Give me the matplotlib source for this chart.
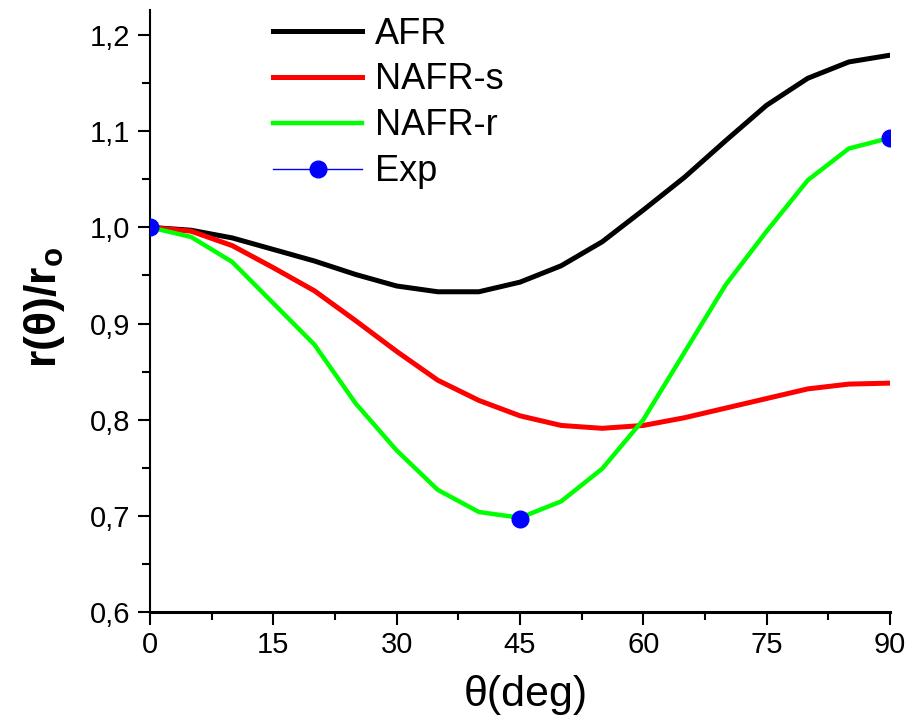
import matplotlib
matplotlib.use("Agg")
import matplotlib.pyplot as plt

# values
theta = [0, 5, 10, 15, 20, 25, 30, 35, 40, 45, 50, 55, 60, 65, 70, 75, 80, 85, 90]
afr = [1.000, 0.997, 0.989, 0.977, 0.965, 0.951, 0.939, 0.933, 0.933, 0.943,
       0.960, 0.985, 1.018, 1.052, 1.090, 1.127, 1.155, 1.172, 1.179]
nafr_s = [1.000, 0.996, 0.981, 0.958, 0.934, 0.903, 0.871, 0.841, 0.820, 0.804,
          0.794, 0.791, 0.794, 0.802, 0.812, 0.822, 0.832, 0.837, 0.838]
nafr_r = [1.000, 0.990, 0.964, 0.921, 0.878, 0.817, 0.768, 0.727, 0.704, 0.698,
          0.715, 0.749, 0.800, 0.870, 0.940, 0.996, 1.049, 1.082, 1.093]
exp_theta = [0, 45, 90]
exp_val = [1.000, 0.697, 1.093]

xticks = [0, 15, 30, 45, 60, 75, 90]
yticks = [0.6, 0.7, 0.8, 0.9, 1.0, 1.1, 1.2]
ytick_labels = ['0,6', '0,7', '0,8', '0,9', '1,0', '1,1', '1,2']

plt.rcParams['font.family'] = ['Liberation Sans', 'DejaVu Sans']
plt.rcParams['mathtext.fontset'] = 'custom'
plt.rcParams['mathtext.bf'] = 'Liberation Sans:bold'
plt.rcParams['mathtext.rm'] = 'Liberation Sans'

fig = plt.figure(figsize=(9.1, 7.24), dpi=100)
ax = fig.add_axes([150 / 910, 112 / 724, 740 / 910, 602 / 724])

ax.plot(theta, afr, color='black', lw=3.6, label='AFR')
ax.plot(theta, nafr_s, color='#ff0000', lw=3.6, label='NAFR-s')
ax.plot(theta, nafr_r, color='#00ff00', lw=3.2, label='NAFR-r')
ax.plot(exp_theta, exp_val, color='#0000ff', lw=1, ls='none', marker='o',
        markersize=12, label='Exp', zorder=5)

ax.set_xlim(0, 90)
ax.set_ylim(0.6, 1.226)
ax.set_xticks(xticks)
ax.set_xticks([7.5 + 15 * i for i in range(6)], minor=True)
ax.set_yticks(yticks)
ax.set_yticklabels(ytick_labels)
ax.set_yticks([0.65 + 0.1 * i for i in range(6)], minor=True)

for lab in ax.get_xticklabels() + ax.get_yticklabels():
    lab.set_fontsize(21)

ax.tick_params(which='major', length=9, width=1.5, direction='out', pad=5)
ax.tick_params(which='minor', length=6, width=1.5, direction='out')
ax.spines['top'].set_visible(False)
ax.spines['right'].set_visible(False)
ax.spines['left'].set_linewidth(1.5)
ax.spines['bottom'].set_linewidth(2.2)

ax.set_xlabel('θ(deg)', fontsize=31)
ax.xaxis.set_label_coords(0.508, -0.105)
ax.set_ylabel('r(θ)/r$_{\\mathbf{o}}$', fontsize=32, fontweight='bold')
ax.yaxis.set_label_coords(-0.112, 0.505)

# legend: Exp entry shows a thin line through the marker
handles, labels = ax.get_legend_handles_labels()
handles[3] = plt.Line2D([], [], color='#0000ff', lw=1, marker='o', markersize=12)
ax.legend(handles, labels, loc='upper left', bbox_to_anchor=(273 / 910, 0.977),
          bbox_transform=fig.transFigure, frameon=False, fontsize=26,
          handlelength=2.47, handletextpad=0.36, labelspacing=0.30,
          borderpad=0, borderaxespad=0, numpoints=1)

fig.savefig('out.png', dpi=100)
